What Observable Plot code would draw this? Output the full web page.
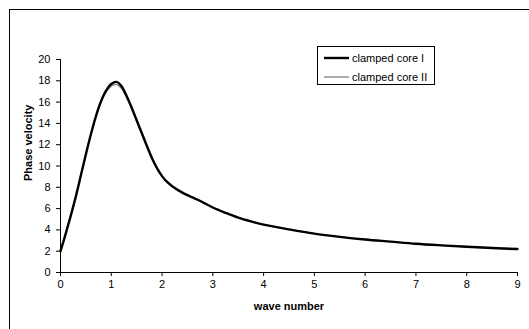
<!DOCTYPE html>
<html>
<head>
<meta charset="utf-8">
<script src="https://cdn.jsdelivr.net/npm/d3@7"></script>
<script src="https://cdn.jsdelivr.net/npm/@observablehq/plot@0.6"></script>
<style>
  html, body { margin: 0; padding: 0; background: #fff; overflow: hidden; }
  #wrap { position: relative; width: 529px; height: 329px; overflow: hidden; font-family: "Liberation Sans", Arial, sans-serif; }
  #frame { position: absolute; left: 9px; top: 9px; width: 600px; height: 400px; border: 1px solid #000; box-sizing: border-box; }
  #chart { position: absolute; left: 0; top: 0; }
  #legend { position: absolute; left: 317px; top: 46px; width: 118px; height: 39px; border: 1px solid #000; box-sizing: border-box; background: #fff; font-size: 11px; color: #000; }
  .row { position: absolute; left: 6px; height: 14px; display: flex; align-items: center; }
  .row svg { margin-right: 3px; }
</style>
</head>
<body>
<div id="wrap">
  <div id="frame"></div>
  <div id="chart"></div>
  <div id="legend"></div>
</div>
<script>
const seriesNames = ["clamped core I", "clamped core II"];
const waveNumber = [0, 0.1, 0.2, 0.3, 0.4, 0.5, 0.6, 0.7, 0.8, 0.9, 1.0, 1.1, 1.2, 1.3, 1.4, 1.5, 1.6, 1.7, 1.8, 1.9, 2.0, 2.1, 2.2, 2.4, 2.6, 2.8, 3.0, 3.25, 3.5, 3.75, 4.0, 4.5, 5.0, 5.5, 6.0, 6.5, 7.0, 7.5, 8.0, 8.5, 9.0];
const velocityI  = [2.0, 3.6, 5.3, 7.1, 9.1, 11.1, 13.0, 14.7, 16.1, 17.1, 17.7, 17.9, 17.5, 16.6, 15.5, 14.3, 13.1, 11.9, 10.75, 9.8, 9.05, 8.5, 8.1, 7.5, 7.05, 6.6, 6.1, 5.6, 5.15, 4.8, 4.5, 4.05, 3.65, 3.35, 3.1, 2.9, 2.7, 2.55, 2.42, 2.3, 2.2];
const velocityII = [2.0, 3.6, 5.3, 7.1, 9.1, 11.1, 13.0, 14.7, 16.0, 16.95, 17.5, 17.65, 17.3, 16.45, 15.4, 14.2, 13.0, 11.8, 10.7, 9.75, 9.0, 8.5, 8.1, 7.5, 7.05, 6.6, 6.1, 5.6, 5.15, 4.8, 4.5, 4.05, 3.65, 3.35, 3.1, 2.9, 2.7, 2.55, 2.42, 2.3, 2.2];
const xTicks = [0, 1, 2, 3, 4, 5, 6, 7, 8, 9];
const yTicks = [0, 2, 4, 6, 8, 10, 12, 14, 16, 18, 20];
const xTitle = "wave number";
const yTitle = "Phase velocity";

const dataI = waveNumber.map((x, i) => ({x, y: velocityI[i]}));
const dataII = waveNumber.map((x, i) => ({x, y: velocityII[i]}));

const plot = Plot.plot({
  width: 529,
  height: 329,
  marginLeft: 60,
  marginRight: 12,
  marginTop: 59,
  marginBottom: 57,
  style: {fontFamily: "Liberation Sans, Arial, sans-serif", fontSize: "11px", color: "#000", background: "transparent"},
  x: {domain: [0, 9]},
  y: {domain: [0, 20]},
  marks: [
    Plot.axisX({ticks: xTicks, tickSize: 4, tickPadding: 4, label: null, tickFormat: d => String(d)}),
    Plot.axisY({ticks: yTicks, tickSize: 4, tickPadding: 6, label: null, tickFormat: d => String(d)}),
    Plot.ruleX([0], {stroke: "#000"}),
    Plot.ruleY([0], {stroke: "#000"}),
    Plot.line(dataII, {x: "x", y: "y", stroke: "#7f7f7f", strokeWidth: 1.3, curve: "catmull-rom"}),
    Plot.line(dataI, {x: "x", y: "y", stroke: "#000", strokeWidth: 2.4, curve: "catmull-rom"}),
    Plot.text([xTitle], {frameAnchor: "bottom", dy: 37, text: d => d, fontWeight: "bold", fontSize: 11, fill: "#000"}),
    Plot.text([yTitle], {frameAnchor: "left", dx: -32, dy: 15, rotate: -90, text: d => d, fontWeight: "bold", fontSize: 11, fill: "#000"})
  ]
});
document.getElementById("chart").appendChild(plot);

const legend = document.getElementById("legend");
const styles = [{stroke: "#000", w: 2.4}, {stroke: "#7f7f7f", w: 1.3}];
seriesNames.forEach((name, i) => {
  const row = document.createElement("div");
  row.className = "row";
  row.style.top = (4 + i * 19) + "px";
  row.innerHTML = `<svg width="25" height="14"><line x1="0" x2="25" y1="7" y2="7" stroke="${styles[i].stroke}" stroke-width="${styles[i].w}"/></svg><span>${name}</span>`;
  legend.appendChild(row);
});
</script>
</body>
</html>
